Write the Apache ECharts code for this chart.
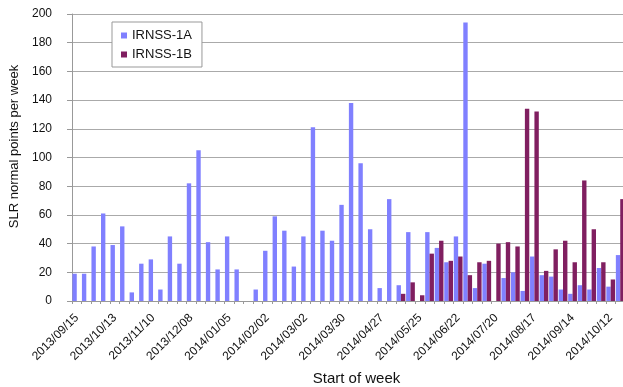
<!DOCTYPE html>
<html>
<head>
<meta charset="utf-8">
<script src="https://cdn.jsdelivr.net/npm/echarts@6/dist/echarts.min.js"></script>
<style>
html,body{margin:0;padding:0;background:#fff;}
#chart{width:623px;height:387px;}
</style>
</head>
<body>
<div id="chart"></div>
<script>
var weeks = [
  '2013/09/15','2013/09/22','2013/09/29','2013/10/06','2013/10/13','2013/10/20','2013/10/27',
  '2013/11/03','2013/11/10','2013/11/17','2013/11/24','2013/12/01','2013/12/08','2013/12/15',
  '2013/12/22','2013/12/29','2014/01/05','2014/01/12','2014/01/19','2014/01/26','2014/02/02',
  '2014/02/09','2014/02/16','2014/02/23','2014/03/02','2014/03/09','2014/03/16','2014/03/23',
  '2014/03/30','2014/04/06','2014/04/13','2014/04/20','2014/04/27','2014/05/04','2014/05/11',
  '2014/05/18','2014/05/25','2014/06/01','2014/06/08','2014/06/15','2014/06/22','2014/06/29',
  '2014/07/06','2014/07/13','2014/07/20','2014/07/27','2014/08/03','2014/08/10','2014/08/17',
  '2014/08/24','2014/08/31','2014/09/07','2014/09/14','2014/09/21','2014/09/28','2014/10/05',
  '2014/10/12','2014/10/19'
];
var irnss1A = [
  19,19,38,61,39,52,6,26,29,8,45,26,82,105,41,22,45,22,0,8,
  35,59,49,24,45,121,49,42,67,138,96,50,9,71,11,48,0,48,37,27,
  45,194,9,26,0,16,20,7,31,18,17,8,5,11,8,23,10,32
];
var irnss1B = [
  0,0,0,0,0,0,0,0,0,0,0,0,0,0,0,0,0,0,0,0,
  0,0,0,0,0,0,0,0,0,0,0,0,0,0,5,13,4,33,42,28,
  31,18,27,28,40,41,38,134,132,21,36,42,27,84,50,27,15,71
];
var yTicks = {min: 0, max: 200, step: 20};

var FONT = '"Liberation Sans", Arial, sans-serif';
var chart = echarts.init(document.getElementById('chart'), null, {renderer: 'canvas'});
chart.setOption({
  animation: false,
  backgroundColor: '#ffffff',
  textStyle: {fontFamily: FONT, color: '#111'},
  grid: {left: 72, right: -2, top: 14, bottom: 86, containLabel: false, outerBoundsMode: 'none'},
  legend: {
    orient: 'vertical', left: 112, top: 22,
    padding: [7, 10, 6, 9], itemGap: 6,
    itemWidth: 6, itemHeight: 6, icon: 'rect',
    backgroundColor: '#fff', borderColor: '#999', borderWidth: 1,
    textStyle: {fontFamily: FONT, fontSize: 13, color: '#111'},
    data: ['IRNSS-1A', 'IRNSS-1B']
  },
  xAxis: {
    type: 'category', data: weeks,
    name: 'Start of week', nameLocation: 'middle', nameGap: 70,
    nameTextStyle: {fontFamily: FONT, fontSize: 15, color: '#111', padding: [0, 0, 0, 16]},
    axisLine: {lineStyle: {color: '#999', width: 1}},
    axisTick: {show: true, interval: 0, length: 3, lineStyle: {color: '#999'}},
    axisLabel: {interval: 3, rotate: 45, margin: 15, fontSize: 12, fontFamily: FONT, color: '#111'},
    splitLine: {show: false}
  },
  yAxis: {
    type: 'value', min: yTicks.min, max: yTicks.max, interval: yTicks.step,
    name: 'SLR normal points per week', nameLocation: 'middle', nameGap: 48,
    nameTextStyle: {fontFamily: FONT, fontSize: 13, color: '#111', padding: [0, 0, 0, 22]},
    axisLine: {show: true, lineStyle: {color: '#999', width: 1}},
    axisTick: {show: true, length: 5, lineStyle: {color: '#999'}},
    axisLabel: {margin: 20, fontSize: 12, fontFamily: FONT, color: '#111'},
    splitLine: {show: true, lineStyle: {color: '#aaa', width: 1}}
  },
  series: [
    {name: 'IRNSS-1A', type: 'bar', data: irnss1A, barGap: '0%', barCategoryGap: '8%',
     itemStyle: {color: '#8080ff'}},
    {name: 'IRNSS-1B', type: 'bar', data: irnss1B, barGap: '0%', barCategoryGap: '8%',
     itemStyle: {color: '#801f60'}}
  ]
});
</script>
</body>
</html>
